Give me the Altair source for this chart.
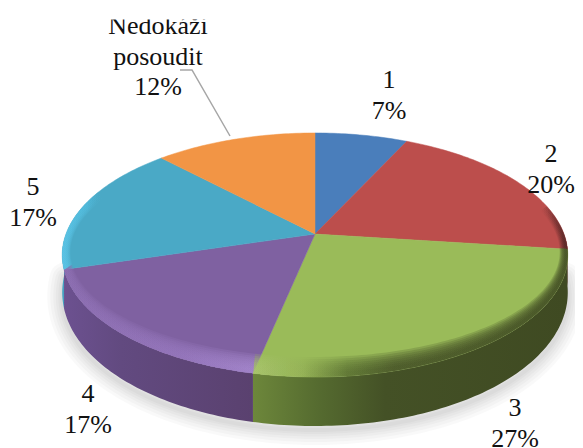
import math
import altair as alt
import pandas as pd

categories = ["1", "2", "3", "4", "5", "Nedokáži\nposoudit"]
values = [7, 20, 26.6, 16.8, 17.4, 12.2]
face_colors = ["#4a7ebb", "#bc4e4c", "#9abb59", "#7f61a1", "#4aa9c6", "#f29545"]

# layout of the drawing, in picture pixels
CX, CY = 315, 234
A, B, K = 249, 118.4, 0.172
label_x = [389, 551, 515, 88, 33, 158]
label_y = [88, 162, 416, 402, 195, 34]
leader_x = [180, 192, 230]
leader_y = [70, 70, 136]

X = alt.Scale(domain=[8, 575], range=[0, 567])
Y = alt.Scale(domain=[448, 8], range=[440, 0])


def rim(deg, su=1.0, sv=1.0, drop=False):
    t = math.radians(deg)
    u, v = math.sin(t), math.cos(t)
    w = 1 + K * v
    x = CX + A * su * u / w
    y = CY - B * sv * v / w
    if drop:
        y += 35 - 14 * v
    return x, y


def arc(a0, a1, **kw):
    n = max(2, int(abs(a1 - a0)) + 1)
    return [rim(a0 + (a1 - a0) * i / (n - 1), **kw) for i in range(n)]


def poly(points, **mark):
    df = pd.DataFrame(points, columns=["x", "y"])
    df["i"] = range(len(df))
    return alt.Chart(df).mark_line(clip=False, **mark).encode(
        x=alt.X("x:Q", scale=X, axis=None),
        y=alt.Y("y:Q", scale=Y, axis=None),
        order=alt.Order("i:Q"),
    )


def grad(*stops):
    return {
        "gradient": "linear", "x1": 0, "x2": 1, "y1": 0, "y2": 0,
        "stops": [{"offset": o, "color": c} for o, c in stops],
    }


cum = [0]
for val in values:
    cum.append(cum[-1] + val)
ang = [c * 3.6 for c in cum]
edge = list(ang)
edge[3] -= 1  # the front edge of the 3/4 boundary stands upright

layers = []

# soft shadow
full = arc(92, 268, drop=True)
shadow = [(x, y + 4) for x, y in full]
for sw in (30, 24, 18, 13, 8, 4):
    layers.append(poly(shadow, stroke="#000000", strokeOpacity=0.024,
                       strokeWidth=sw, strokeCap="round", strokeJoin="round"))

# side wall
wall_fill = {
    1: grad((0, "#5e2a2a"), (1, "#6b2f2e")),
    2: grad((0, "#6d873b"), (0.2, "#566c30"), (0.42, "#445126"), (1, "#3f4a22")),
    3: grad((0, "#6c5190"), (0.3, "#624a80"), (1, "#5a416f")),
    4: grad((0, "#3f9dbd"), (1, "#4aa6c6")),
}
for s, f in wall_fill.items():
    a0, a1 = max(edge[s], 92), min(edge[s + 1], 268)
    pts = arc(a0, a1) + arc(a1, a0, drop=True)
    layers.append(poly(pts + pts[:1], fill=f, stroke=None, strokeWidth=0))

# top faces
for s, col in enumerate(face_colors):
    pts = [(CX, CY)] + arc(edge[s], edge[s + 1]) + [(CX, CY)]
    layers.append(poly(pts, fill=col, stroke=col, strokeWidth=0.5))

# bevel along the rim
bevels = [
    (1, 76, edge[2], grad((0, "rgba(70,30,30,0)"), (0.7, "rgba(70,30,30,0.5)"), (1, "#4d2524"))),
    (2, edge[2], edge[3], grad((0, "#aac66e"), (0.16, "#93b055"), (0.3, "#5a7032"), (0.45, "#434f25"), (1, "#3f4a22"))),
    (3, edge[3], edge[4], grad((0, "#8d6fb2"), (0.6, "#9677bd"), (1, "#a688ce"))),
    (4, edge[4], 292, grad((0, "#5cc6e8"), (0.6, "#52bbdc"), (1, "rgba(74,169,198,0)"))),
]
steps = [(0.86, 0.968), (0.875, 0.971), (0.89, 0.974), (0.905, 0.977), (0.92, 0.98), (0.935, 0.983), (0.95, 0.986), (0.965, 0.989)]
for s, a0, a1, f in bevels:
    for sv, su in steps:
        pts = arc(a0, a1) + arc(a1, a0, su=su, sv=sv)
        layers.append(poly(pts + pts[:1], fill=f, fillOpacity=0.22, stroke=None, strokeWidth=0))

# leader line for the last label
leader = pd.DataFrame({"x": leader_x, "y": leader_y, "i": range(len(leader_x))})
layers.append(alt.Chart(leader).mark_line(color="#a6a6a6", strokeWidth=1.5).encode(
    x=alt.X("x:Q", scale=X, axis=None),
    y=alt.Y("y:Q", scale=Y, axis=None),
    order=alt.Order("i:Q"),
))

# data labels
labels = pd.DataFrame({
    "t": [f"{c}\n{round(v)}%" for c, v in zip(categories, values)],
    "x": label_x,
    "y": label_y,
})
layers.append(alt.Chart(labels).mark_text(
    font="Liberation Serif", fontSize=26, lineBreak="\n", lineHeight=30.5,
    align="center", baseline="alphabetic", color="#111111",
).encode(
    x=alt.X("x:Q", scale=X, axis=None),
    y=alt.Y("y:Q", scale=Y, axis=None),
    text="t:N",
))

# the top of the picture cuts the first label
layers.append(alt.Chart(pd.DataFrame({"k": [0]})).mark_rect(color="white").encode(
    x=alt.value(0), x2=alt.value(567), y=alt.value(0), y2=alt.value(11.5),
))

chart = alt.layer(*layers).properties(
    width=567, height=440, padding=0,
    autosize=alt.AutoSizeParams(type="none"),
).configure_view(stroke=None)

chart.save("out.html", embed_options={"renderer": "svg", "actions": False})
